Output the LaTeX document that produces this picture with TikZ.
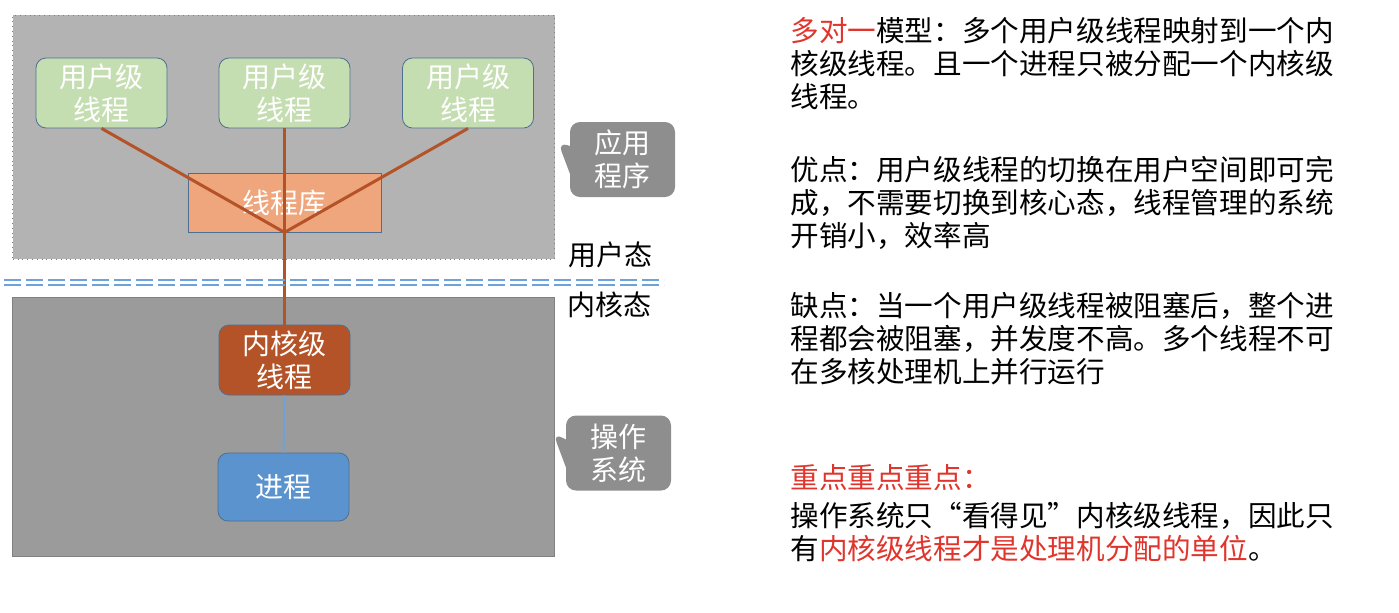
\documentclass[tikz,border=0pt]{standalone}
\usepackage{fontspec}
\setmainfont{Noto Sans CJK SC}
\usepackage{xcolor}
\usetikzlibrary{positioning,shapes.callouts}
\definecolor{AppGray}{HTML}{B3B3B3}
\definecolor{OsGray}{HTML}{9B9B9B}
\definecolor{TipGray}{HTML}{8E8E8E}
\definecolor{UserGreen}{HTML}{C5DEB1}
\definecolor{LibOrange}{HTML}{EFA67C}
\definecolor{KernBrown}{HTML}{B45327}
\definecolor{ProcBlue}{HTML}{5B93CF}
\definecolor{EdgeBlue}{HTML}{4F6F92}
\definecolor{SepBlue}{HTML}{6FA3D8}
\definecolor{NoteRed}{HTML}{E0352C}

\begin{document}
\begin{tikzpicture}[
  x=0.5pt, y=-0.5pt,
  font=\fontsize{14}{16.5}\selectfont,
  region/.style={draw=gray,thin,inner sep=0pt,minimum width=271pt},
  ubox/.style={draw=EdgeBlue,rounded corners=5pt,fill=UserGreen,text=white,align=center,
    inner sep=0pt,minimum width=65.5pt,minimum height=35pt},
  tip/.style={rectangle callout,rounded corners=5pt,fill=TipGray,text=white,align=center,
    inner sep=0pt,minimum width=52.5pt,minimum height=37.5pt,callout pointer width=14pt},
  para/.style={anchor=base west,align=left,inner sep=0pt,
    font=\fontsize{14.3}{16.5}\selectfont},
  thr/.style={KernBrown,line width=1.5pt}
]
  \useasboundingbox (0,0) rectangle (1399,612);

  % user space and kernel space
  \node[region,dotted,fill=AppGray,minimum height=122pt] (app) at (283.75,137) {};
  \node[region,fill=OsGray,minimum height=129.5pt] (os) at (283.75,426.5) {};

  \node[ubox] (u1) at (101.5,93) {用户级\\线程};
  \node[ubox] (u2) at (284.5,93) {用户级\\线程};
  \node[ubox] (u3) at (468,93) {用户级\\线程};
  \node[draw=EdgeBlue,fill=LibOrange,text=white,inner sep=0pt,
    minimum width=96.5pt,minimum height=29.5pt] (lib) at (284.5,202.5) {线程库};
  \node[ubox,fill=KernBrown] (kt) at (284.5,360) {内核级\\线程};
  \node[ubox,draw=EdgeBlue,fill=ProcBlue,minimum height=34pt] (proc) at (283.5,487) {进程};

  \draw[thr] (u1.south) -- (lib.south);
  \draw[thr] (u2.south) -- (lib.south);
  \draw[thr] (u3.south) -- (lib.south);
  \draw[thr] (lib.south) -- (kt.north);
  \draw[SepBlue,line width=1pt] (kt.south) -- (proc.north);

  % user / kernel boundary
  \draw[SepBlue,line width=1pt,dash pattern=on 8.5pt off 2.5pt] (4,279.5) -- (664,279.5);
  \draw[SepBlue,line width=1pt,dash pattern=on 8.5pt off 2.5pt] (4,285) -- (664,285);
  \node (us) at (610,255) {用户态};
  \node (ks) at (609,305) {内核态};

  \node[tip,callout absolute pointer={(558,142)}] (tapp) at (622.5,159.5) {应用\\程序};
  \node[tip,callout absolute pointer={(553,433)}] (tos) at (618.5,453) {操作\\系统};

  % notes (base = baseline of the last line)
  \node[para] (p1) at (790,107) {\textcolor{NoteRed}{多对一}模型：多个用户级线程映射到一个内\\
    核级线程。且一个进程只被分配一个内核级\\线程。};
  \node[para] (p2) at (790,246) {优点：用户级线程的切换在用户空间即可完\\
    成，不需要切换到核心态，线程管理的系统\\开销小，效率高};
  \node[para] (p3) at (790,382) {缺点：当一个用户级线程被阻塞后，整个进\\
    程都会被阻塞，并发度不高。多个线程不可\\在多核处理机上并行运行};
  \node[para,text=NoteRed] (p4) at (790,488) {重点重点重点：};
  \node[para] (p5) at (790,559) {操作系统只“看得见”内核级线程，因此只\\
    有\textcolor{NoteRed}{内核级线程才是处理机分配的单位}。};
\end{tikzpicture}
\end{document}
